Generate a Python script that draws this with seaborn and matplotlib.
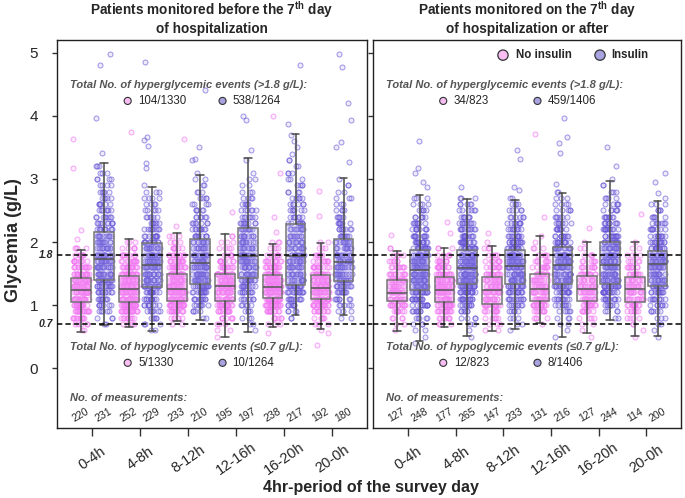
import numpy as np
import pandas as pd
import matplotlib
matplotlib.use("Agg")
import matplotlib.pyplot as plt
import seaborn as sns

sns.set_style("ticks")
plt.rcParams["font.family"] = ["Liberation Sans", "DejaVu Sans"]
plt.rcParams["mathtext.fontset"] = "custom"
plt.rcParams["mathtext.rm"] = "Liberation Sans"
plt.rcParams["mathtext.bf"] = "Liberation Sans:bold"

hours = ["0-4h", "4-8h", "8-12h", "12-16h", "16-20h", "20-0h"]

# glycemia values (g/L) of the histogram rows used for the dots
glyc_bins = [0.4, 0.5, 0.6, 0.7, 0.8, 0.9, 1.0, 1.1, 1.2, 1.3, 1.4, 1.5,
             1.6, 1.7, 1.8, 1.9, 2.0, 2.1, 2.2, 2.3, 2.4, 2.5, 2.6, 2.7,
             2.8, 2.9, 3.0, 3.1, 3.2, 3.3, 3.4, 3.5, 3.6, 3.7]

# ---- before the 7th day of hospitalization ----
left_noins_n = [220, 252, 233, 195, 238, 192]
left_ins_n = [231, 229, 210, 197, 217, 180]
# whislo, q1, median, q3, whishi
left_noins_box = [[0.57, 1.05, 1.24, 1.43, 1.88], [0.65, 1.04, 1.25, 1.46, 2.04],
                  [0.74, 1.07, 1.25, 1.50, 2.15], [0.50, 1.06, 1.30, 1.50, 2.13],
                  [0.65, 1.11, 1.29, 1.48, 1.97], [0.62, 1.10, 1.27, 1.47, 1.99]]
left_ins_box = [[0.68, 1.40, 1.73, 2.16, 3.25], [0.58, 1.29, 1.63, 1.98, 2.88],
                [0.77, 1.34, 1.66, 2.05, 3.07], [0.57, 1.43, 1.78, 2.23, 3.34],
                [0.84, 1.32, 1.78, 2.28, 3.71], [0.84, 1.38, 1.69, 2.04, 3.02]]
left_noins_counts = [
    [0, 0, 2, 5, 11, 16, 21, 27, 29, 27, 25, 18, 14, 10, 7, 4, 0, 0],
    [0, 0, 0, 4, 10, 20, 28, 32, 32, 30, 28, 22, 17, 12, 8, 5, 3, 0],
    [0, 0, 0, 2, 6, 14, 24, 30, 32, 26, 24, 20, 16, 13, 10, 7, 4, 3],
    [0, 1, 2, 3, 7, 12, 20, 22, 24, 25, 23, 19, 12, 9, 6, 4, 3, 2],
    [0, 0, 0, 3, 6, 12, 22, 30, 34, 34, 30, 22, 15, 11, 7, 4, 3, 0],
    [0, 0, 1, 3, 5, 10, 18, 23, 27, 27, 24, 18, 12, 9, 6, 3, 2, 0],
]
left_ins_counts = [
    [0, 0, 0, 2, 3, 5, 7, 9, 11, 13, 14, 16, 17, 16, 14, 13, 12, 11, 10, 9, 8, 7, 6, 5, 5, 4, 4, 3, 3, 0, 0, 0, 0, 0],
    [0, 0, 2, 3, 5, 7, 9, 12, 14, 15, 16, 17, 17, 16, 15, 14, 12, 10, 9, 7, 6, 5, 4, 4, 3, 1, 0, 0, 0, 0, 0, 0, 0, 0],
    [0, 0, 0, 0, 2, 4, 7, 10, 13, 15, 16, 17, 17, 15, 14, 12, 11, 10, 9, 7, 6, 5, 4, 4, 3, 2, 2, 1, 0, 0, 0, 0, 0, 0],
    [0, 0, 1, 2, 3, 4, 5, 7, 9, 10, 12, 13, 14, 15, 15, 12, 11, 11, 10, 9, 7, 6, 5, 4, 3, 2, 2, 1, 0, 1, 0, 0, 0, 0],
    [0, 0, 0, 0, 2, 4, 7, 10, 13, 15, 14, 13, 13, 13, 13, 12, 11, 10, 10, 9, 7, 6, 6, 5, 4, 4, 3, 3, 2, 2, 1, 1, 1, 1],
    [0, 0, 0, 0, 2, 3, 5, 7, 9, 11, 12, 14, 15, 15, 13, 12, 11, 9, 8, 7, 5, 4, 3, 3, 2, 2, 1, 0, 0, 0, 0, 0, 0, 0],
]
left_noins_out = [[2.04, 2.19, 3.17, 3.64], [3.75], [2.26, 3.64], [2.47],
                  [2.16, 2.40, 3.09, 4.0, 0.55], [2.41, 2.81, 0.56, 0.37]]
left_ins_out = [[3.42, 3.97, 4.81, 4.98], [3.18, 3.25, 3.53, 3.62, 3.67, 4.85],
                [3.30, 3.32, 3.50, 4.41], [3.46, 3.94, 4.0], [3.87, 4.81],
                [3.27, 3.50, 3.58, 3.94, 4.2, 4.78, 4.98]]
left_hyper = ["104/1330", "538/1264"]
left_hypo = ["5/1330", "10/1264"]

# ---- on the 7th day of hospitalization or after ----
right_noins_n = [127, 177, 147, 131, 127, 114]
right_ins_n = [248, 265, 233, 216, 244, 200]
right_noins_box = [[0.58, 1.06, 1.19, 1.40, 1.86], [0.65, 1.04, 1.24, 1.44, 1.91],
                   [0.58, 1.01, 1.24, 1.44, 1.94], [0.71, 1.06, 1.25, 1.49, 2.10],
                   [0.55, 1.07, 1.26, 1.46, 2.00], [0.51, 1.05, 1.25, 1.44, 2.00]]
right_ins_box = [[0.43, 1.24, 1.56, 1.88, 2.74], [0.51, 1.33, 1.58, 1.87, 2.69],
                 [0.62, 1.34, 1.62, 1.88, 2.66], [0.50, 1.33, 1.63, 1.92, 2.77],
                 [0.77, 1.33, 1.63, 2.00, 2.97], [0.51, 1.30, 1.65, 1.86, 2.65]]
right_noins_counts = [
    [0, 0, 1, 2, 4, 8, 14, 17, 18, 16, 14, 11, 9, 6, 4, 2, 0, 0],
    [0, 0, 0, 3, 7, 13, 20, 22, 24, 22, 20, 15, 12, 9, 5, 3, 0, 0],
    [0, 0, 2, 3, 6, 10, 15, 17, 19, 18, 16, 13, 10, 8, 5, 3, 1, 0],
    [0, 0, 0, 1, 4, 8, 14, 16, 17, 16, 14, 12, 10, 7, 5, 3, 1, 1],
    [0, 1, 1, 2, 4, 8, 13, 16, 17, 16, 14, 12, 9, 6, 4, 2, 1, 0],
    [0, 1, 1, 2, 4, 7, 12, 14, 15, 14, 13, 10, 8, 5, 4, 2, 1, 0],
]
right_ins_counts = [
    [1, 1, 2, 3, 5, 8, 11, 14, 16, 17, 18, 19, 19, 18, 17, 15, 13, 11, 9, 8, 6, 5, 4, 3, 0, 0, 0, 0, 0, 0, 0, 0, 0, 0],
    [0, 1, 1, 2, 4, 6, 9, 13, 16, 19, 21, 23, 23, 21, 19, 17, 15, 13, 11, 9, 7, 6, 5, 3, 0, 0, 0, 0, 0, 0, 0, 0, 0, 0],
    [0, 0, 1, 2, 3, 5, 8, 11, 13, 15, 18, 20, 21, 20, 18, 15, 14, 11, 9, 8, 6, 5, 4, 2, 0, 0, 0, 0, 0, 0, 0, 0, 0, 0],
    [0, 1, 1, 2, 3, 5, 7, 10, 12, 14, 16, 17, 18, 17, 16, 14, 12, 10, 9, 7, 6, 5, 4, 3, 2, 0, 0, 0, 0, 0, 0, 0, 0, 0],
    [0, 0, 0, 0, 2, 4, 7, 11, 15, 18, 19, 19, 19, 18, 17, 16, 14, 13, 12, 9, 8, 6, 5, 4, 3, 2, 1, 0, 0, 0, 0, 0, 0, 0],
    [0, 1, 1, 2, 3, 5, 7, 9, 11, 13, 14, 15, 17, 18, 17, 14, 12, 10, 8, 7, 5, 4, 3, 1, 0, 0, 0, 0, 0, 0, 0, 0, 0, 0],
]
right_noins_out = [[2.11], [2.15, 2.32], [2.15], [2.40, 3.71], [2.22], [2.44]]
right_ins_out = [[2.88, 2.96, 3.09, 3.17, 3.61], [2.88], [2.83, 2.87, 3.32, 3.46],
                 [2.92, 3.42, 3.57, 3.67, 3.97], [3.21, 3.51], [2.77, 2.95, 3.09]]
right_hyper = ["34/823", "459/1406"]
right_hypo = ["12/823", "8/1406"]

pink_edge = (0.95, 0.45, 0.95, 0.62)
pink_fill = (0.97, 0.60, 0.97, 0.18)
purple_edge = (0.40, 0.33, 0.84, 0.62)
purple_fill = (0.55, 0.50, 0.90, 0.15)
pink_box = (0.98, 0.80, 0.97, 0.12)
purple_box = (0.62, 0.60, 0.92, 0.22)
pink_key = "#F8BDF3"
purple_key = "#A9A3E2"
note_col = "#555555"
offset = 0.24

np.random.seed(3)


def dots_frame(counts, outliers, shift):
    rows = []
    for i, (c, o) in enumerate(zip(counts, outliers)):
        vals = list(np.repeat(glyc_bins[:len(c)], c)) + list(o)
        rows += [(i + shift, v) for v in vals]
    return pd.DataFrame(rows, columns=["pos", "glyc"])


def draw_panel(ax, noins_counts, noins_out, ins_counts, ins_out,
               noins_box, ins_box, noins_n, ins_n, hyper, hypo, title):
    for counts, outs, shift, ec, fc in [(noins_counts, noins_out, -offset, pink_edge, pink_fill),
                                        (ins_counts, ins_out, offset, purple_edge, purple_fill)]:
        df = dots_frame(counts, outs, shift)
        sns.stripplot(data=df, x="pos", y="glyc", native_scale=True, orient="x",
                      jitter=0.17, size=3.6, color=ec, facecolor=fc,
                      edgecolor=ec, linewidth=0.7, ax=ax, zorder=2)

    for boxes, shift, face in [(noins_box, -offset, pink_box), (ins_box, offset, purple_box)]:
        stats = [dict(whislo=b[0], q1=b[1], med=b[2], q3=b[3], whishi=b[4], fliers=[])
                 for b in boxes]
        ax.bxp(stats, positions=[i + shift for i in range(len(boxes))], widths=0.41,
               patch_artist=True, showfliers=False, manage_ticks=False, capwidths=0.16,
               boxprops=dict(facecolor=face, edgecolor="#767676", linewidth=1.1),
               medianprops=dict(color="#555555", linewidth=1.1),
               whiskerprops=dict(color="#4a4a4a", linewidth=1.1),
               capprops=dict(color="#4a4a4a", linewidth=1.1), zorder=3)

    for y in [1.8, 0.7]:
        ax.axhline(y, color="black", lw=1.1, ls=(0, (3.5, 2)), zorder=4)

    ax.set_xlim(-0.74, 5.73)
    ax.set_ylim(-0.952, 5.206)
    ax.set_xlabel("")
    ax.set_ylabel("")
    ax.set_xticks(range(len(hours)))
    ax.set_xticklabels(hours, rotation=35, ha="center", va="center", fontsize=10.5)
    ax.tick_params(axis="x", length=6, width=1, pad=16, color="#333333")
    ax.set_yticks([0, 1, 2, 3, 4, 5])
    ax.tick_params(axis="y", length=3.6, width=1, pad=10, labelsize=11, color="#333333")
    for sp in ax.spines.values():
        sp.set_color("#222222")
        sp.set_linewidth(1.0)
    ax.set_title(title, fontsize=9.8, fontweight="bold", pad=5, linespacing=1.15)

    tf = ax.transAxes
    ax.text(0.042, 0.884, "Total No. of hyperglycemic events (>1.8 g/L):", transform=tf,
            fontsize=8, fontweight="bold", style="italic", color=note_col, va="center")
    ax.text(0.042, 0.209, "Total No. of hypoglycemic events (\u22640.7 g/L):", transform=tf,
            fontsize=8, fontweight="bold", style="italic", color=note_col, va="center")
    ax.text(0.042, 0.077, "No. of measurements:", transform=tf,
            fontsize=8, fontweight="bold", style="italic", color=note_col, va="center")
    for yy, labels in [(0.843, hyper), (0.168, hypo)]:
        ax.scatter([0.228, 0.534], [yy, yy], s=26, c=[pink_key, purple_key],
                   edgecolors="#333333", linewidths=0.8, transform=tf, zorder=6, clip_on=False)
        ax.text(0.262, yy, labels[0], transform=tf, fontsize=8.3, va="center")
        ax.text(0.566, yy, labels[1], transform=tf, fontsize=8.3, va="center")

    xt = ax.get_xaxis_transform()
    for i in range(len(hours)):
        ax.text(i - offset, 0.034, str(noins_n[i]), transform=xt, rotation=30,
                ha="center", va="center", fontsize=7.6)
        ax.text(i + offset, 0.034, str(ins_n[i]), transform=xt, rotation=30,
                ha="center", va="center", fontsize=7.6)


fig = plt.figure(figsize=(6.85, 4.98), dpi=100)
ax1 = fig.add_axes([57 / 685, 70 / 498, 310 / 685, 388 / 498])
ax2 = fig.add_axes([373 / 685, 70 / 498, 308 / 685, 388 / 498])

draw_panel(ax1, left_noins_counts, left_noins_out, left_ins_counts, left_ins_out,
           left_noins_box, left_ins_box, left_noins_n, left_ins_n, left_hyper, left_hypo,
           "Patients monitored before the 7$^{\\mathbf{th}}$ day\nof hospitalization")
draw_panel(ax2, right_noins_counts, right_noins_out, right_ins_counts, right_ins_out,
           right_noins_box, right_ins_box, right_noins_n, right_ins_n, right_hyper, right_hypo,
           "Patients monitored on the 7$^{\\mathbf{th}}$ day\nof hospitalization or after")
ax2.set_yticklabels([])

# dashed thresholds continue through the gap between the panels
for y, lab in [(1.8, "1.8"), (0.7, "0.7")]:
    ax1.plot([1.0, 1.02], [y, y], transform=ax1.get_yaxis_transform(), color="black",
             lw=1.1, ls=(0, (3.5, 2)), clip_on=False, zorder=4)
    ax1.text(-0.013, y, lab, transform=ax1.get_yaxis_transform(), ha="right", va="center",
             fontsize=7.5, fontweight="bold", style="italic")

# legend at top of right panel
tf2 = ax2.transAxes
ax2.scatter([0.422, 0.737], [0.961, 0.961], s=55, c=[pink_key, purple_key],
            edgecolors="#333333", linewidths=0.9, transform=tf2, zorder=6, clip_on=False)
ax2.text(0.464, 0.961, "No insulin", transform=tf2, fontsize=8.3, fontweight="bold", va="center")
ax2.text(0.773, 0.961, "Insulin", transform=tf2, fontsize=8.3, fontweight="bold", va="center")

fig.text(14 / 685, 0.518, "Glycemia (g/L)", rotation=90, ha="center", va="center",
         fontsize=13, fontweight="bold")
fig.text(371 / 685, 11 / 498, "4hr-period of the survey day", ha="center", va="center",
         fontsize=11.5, fontweight="bold")

fig.savefig("out.png", dpi=100)
